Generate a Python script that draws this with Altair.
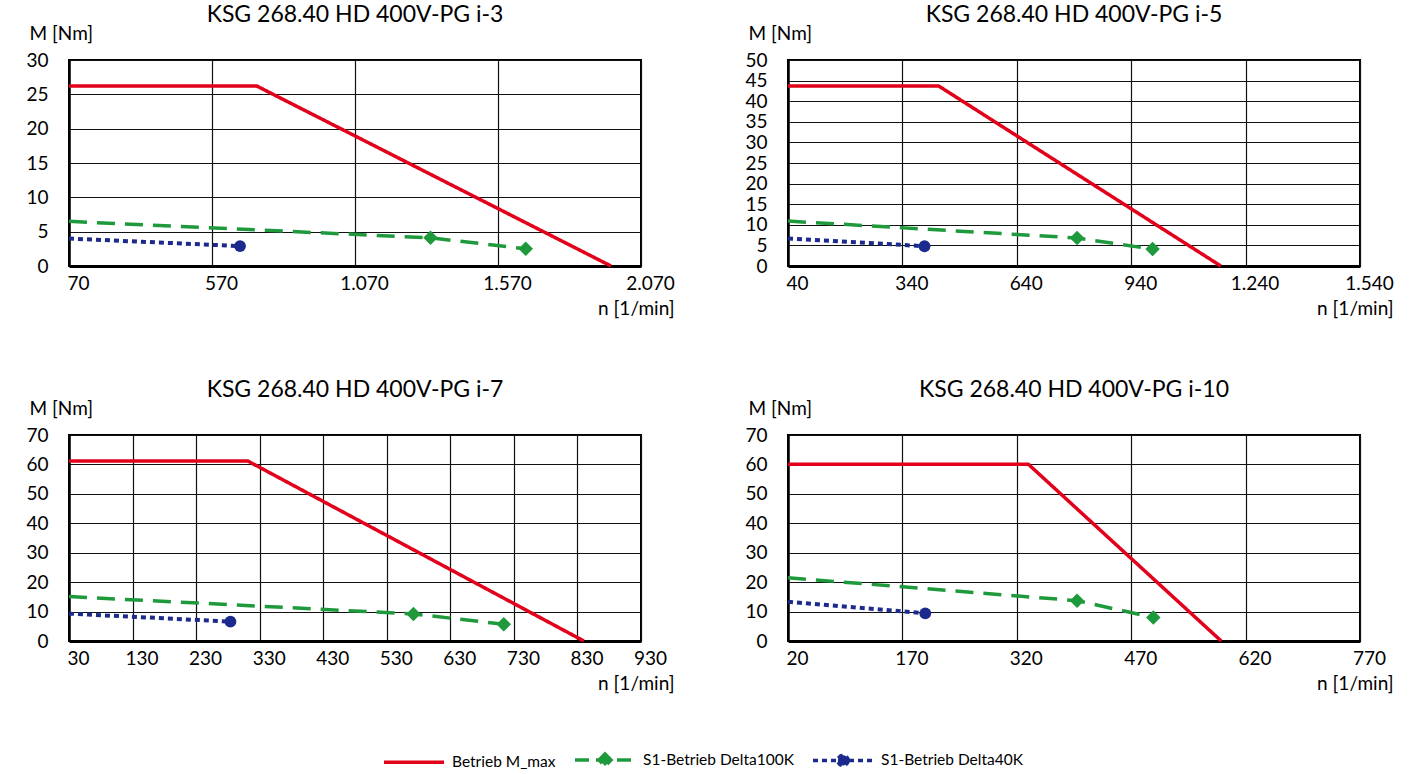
import altair as alt
import pandas as pd

FONT = "Lato"

titles = [
    "KSG 268.40 HD 400V-PG i-3",
    "KSG 268.40 HD 400V-PG i-5",
    "KSG 268.40 HD 400V-PG i-7",
    "KSG 268.40 HD 400V-PG i-10",
]
x_ticks = [
    [70, 570, 1070, 1570, 2070],
    [40, 340, 640, 940, 1240, 1540],
    [30, 130, 230, 330, 430, 530, 630, 730, 830, 930],
    [20, 170, 320, 470, 620, 770],
]
y_ticks = [
    [0, 5, 10, 15, 20, 25, 30],
    [0, 5, 10, 15, 20, 25, 30, 35, 40, 45, 50],
    [0, 10, 20, 30, 40, 50, 60, 70],
    [0, 10, 20, 30, 40, 50, 60, 70],
]

# Betrieb M_max
red_n = [[70, 727, 1965], [40, 435, 1175], [30, 311, 840], [20, 335, 588]]
red_m = [[26.2, 26.2, 0], [43.7, 43.7, 0], [61.2, 61.2, 0], [60.1, 60.1, 0]]
# S1-Betrieb Delta100K
green_n = [[70, 1334, 1667], [40, 798, 996], [30, 572, 714], [20, 399, 499]]
green_m = [[6.5, 4.1, 2.5], [10.9, 6.8, 4.1], [15.1, 9.2, 5.7], [21.5, 13.7, 8.0]]
# S1-Betrieb Delta40K
blue_n = [[70, 668], [40, 398], [30, 284], [20, 200]]
blue_m = [[4.0, 2.9], [6.7, 4.8], [9.3, 6.6], [13.3, 9.4]]

series_names = ["Betrieb M_max", "S1-Betrieb Delta100K", "S1-Betrieb Delta40K"]
colors = ["#e2001a", "#1e9a3c", "#1b2a8c"]
dashes = [[1, 0], [18, 10], [5, 4]]
widths = [3.5, 3.5, 4]
legend_dashes = [[1, 0], [14, 7], [5, 4]]
legend_shapes = [
    "M-1,0H1",
    "M-1,0H1M0,-0.2L0.2,0L0,0.2L-0.2,0Z",
    "M-1,0H1M0.17,0A0.17,0.17,0,1,1,-0.17,0A0.17,0.17,0,1,1,0.17,0Z",
]

rows = []
for p in range(4):
    for k, (ns, ms) in enumerate([(red_n[p], red_m[p]), (green_n[p], green_m[p]), (blue_n[p], blue_m[p])]):
        for i, (n, m) in enumerate(zip(ns, ms)):
            rows.append(dict(panel=p, series=series_names[k], n=n, M=m, order=i,
                             marker=bool(k > 0 and i > 0)))
df = pd.DataFrame(rows)

W, H = 572, 206

def de_fmt():
    return "replace(format(datum.value, ','), ',', '.')"

def panel(p, with_legend=False):
    ticks = x_ticks[p]
    x = alt.X("n:Q", scale=alt.Scale(domain=[ticks[0], ticks[-1]], nice=False, zero=False),
              axis=alt.Axis(values=ticks, labelExpr=de_fmt(), title="n [1/min]",
                            titleAngle=0, titleAlign="right", titleBaseline="middle",
                            titleX=W + 33, titleY=42, labelOffset=9, labelPadding=8,
                            labelFlush=False, labelOverlap=False,
                            domainWidth=3, grid=True))
    y = alt.Y("M:Q", scale=alt.Scale(domain=[y_ticks[p][0], y_ticks[p][-1]], nice=False),
              axis=alt.Axis(values=y_ticks[p], title="M [Nm]", titleAngle=0,
                            titleAlign="left", titleBaseline="middle",
                            titleX=-40, titleY=-27, labelPadding=21, domainWidth=2.5,
                            labelFlush=False, labelOverlap=False, grid=True))
    base = alt.Chart(df).transform_filter(alt.datum.panel == p)
    layers = []
    for k in [1, 2, 0]:
        layers.append(
            base.transform_filter(alt.datum.series == series_names[k])
            .mark_line(color=colors[k], strokeWidth=widths[k],
                       strokeDash=dashes[k], strokeCap="butt")
            .encode(x=x, y=y, order="order:Q")
        )
    layers.append(
        base.transform_filter((alt.datum.series == series_names[1]) & alt.datum.marker)
        .mark_point(shape="diamond", filled=True, color=colors[1], size=210, opacity=1)
        .encode(x=x, y=y)
    )
    layers.append(
        base.transform_filter((alt.datum.series == series_names[2]) & alt.datum.marker)
        .mark_point(shape="circle", filled=True, color=colors[2], size=140, opacity=1)
        .encode(x=x, y=y)
    )
    if with_legend:
        leg = alt.Legend(orient="none", direction="horizontal", legendX=313, legendY=668,
                         title=None, symbolSize=3600, symbolStrokeWidth=3.5,
                         labelFontSize=15.5, labelFont=FONT, labelColor="black",
                         labelOffset=6, columnPadding=12, symbolOpacity=1)
        scale_c = alt.Scale(domain=series_names, range=colors)
        layers.append(
            base.transform_filter("false")
            .mark_point(filled=True, opacity=1, strokeWidth=3.5)
            .encode(
                x=x, y=y,
                color=alt.Color("series:N", scale=scale_c, legend=leg),
                stroke=alt.Stroke("series:N", scale=scale_c, legend=leg),
                shape=alt.Shape("series:N", scale=alt.Scale(domain=series_names, range=legend_shapes), legend=leg),
                strokeDash=alt.StrokeDash("series:N", scale=alt.Scale(domain=series_names, range=legend_dashes), legend=leg),
            )
        )
    return alt.layer(*layers).properties(
        width=W, height=H,
        title=alt.TitleParams(titles[p], fontSize=23, font=FONT, fontWeight="normal",
                              color="black", offset=-3, anchor="middle"),
    )

chart = alt.concat(panel(0, True), panel(1), panel(2), panel(3), columns=2,
                   spacing={"row": 169, "column": 147}, bounds="flush").configure_view(
    stroke="black", strokeWidth=2
).configure_axis(
    labelFont=FONT, labelFontSize=19, labelColor="black",
    titleFont=FONT, titleFontSize=19, titleColor="black", titleFontWeight="normal",
    domainColor="black", gridColor="#111", gridWidth=1.2, gridOpacity=1, ticks=False,
).properties(padding={"left": 24, "top": 3, "right": 10, "bottom": 10}, background="white")

chart.save("out.html", embed_options={"renderer": "svg", "actions": False})
